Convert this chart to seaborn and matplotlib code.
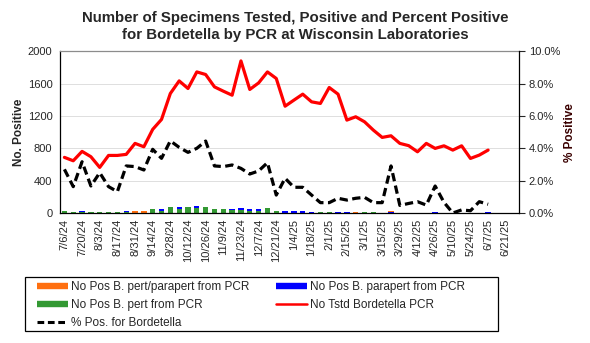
import numpy as np
import matplotlib
matplotlib.use("Agg")
import matplotlib.pyplot as plt
import seaborn as sns
from matplotlib.ticker import PercentFormatter, FixedLocator, NullFormatter
from matplotlib.lines import Line2D
from matplotlib.patches import Rectangle

# ---------------- data ----------------
weeks = ["7/6/24", "7/13/24", "7/20/24", "7/27/24", "8/3/24", "8/10/24", "8/17/24",
         "8/24/24", "8/31/24", "9/7/24", "9/14/24", "9/21/24", "9/28/24", "10/5/24",
         "10/12/24", "10/19/24", "10/26/24", "11/2/24", "11/9/24", "11/16/24",
         "11/23/24", "11/30/24", "12/7/24", "12/14/24", "12/21/24", "12/28/24",
         "1/4/25", "1/11/25", "1/18/25", "1/25/25", "2/1/25", "2/8/25", "2/15/25",
         "2/22/25", "3/1/25", "3/8/25", "3/15/25", "3/22/25", "3/29/25", "4/5/25",
         "4/12/25", "4/19/25", "4/26/25", "5/3/25", "5/10/25", "5/17/25", "5/24/25",
         "5/31/25", "6/7/25", "6/14/25", "6/21/25", "6/28/25"]

tested = [688, 646, 762, 696, 564, 712, 712, 725, 861, 819,
          1034, 1157, 1478, 1634, 1540, 1745, 1713, 1560, 1507, 1457,
          1881, 1528, 1609, 1745, 1664, 1321, 1396, 1470, 1375, 1355,
          1552, 1470, 1149, 1190, 1128, 1025, 935, 955, 861, 833,
          757, 861, 799, 831, 778, 831, 675, 716, 778]

pct_pos = [2.70, 1.63, 3.17, 1.67, 2.49, 1.63, 1.32, 2.91, 2.87, 2.66,
           3.94, 3.38, 4.46, 4.06, 3.75, 4.00, 4.45, 2.91, 2.87, 2.97,
           2.76, 2.41, 2.60, 3.11, 1.11, 2.15, 1.59, 1.59, 1.11, 0.64,
           0.64, 0.91, 0.80, 0.91, 0.97, 0.64, 0.64, 2.91, 0.47, 0.59,
           0.70, 0.49, 1.67, 0.66, 0.00, 0.19, 0.14, 0.70, 0.54]

pos_pert = [22, 12, 12, 12, 14, 12, 10, 10, 0, 0,
            46, 26, 78, 52, 70, 62, 80, 55, 50, 36,
            42, 28, 30, 58, 20, 0, 0, 0, 0, 9,
            10, 0, 0, 0, 11, 7, 6, 0, 5, 5,
            5, 4, 0, 5, 0, 3, 2, 0, 0, 0, 0, 0]

pos_parapert = [0, 0, 16, 0, 0, 0, 0, 15, 0, 0,
                0, 20, 0, 28, 0, 25, 0, 0, 0, 16,
                18, 17, 18, 0, 0, 28, 24, 25, 18, 0,
                0, 15, 12, 0, 0, 0, 0, 12, 0, 0,
                0, 0, 14, 0, 0, 0, 0, 6, 8, 0, 0, 0]

pos_both = [0, 0, 0, 0, 0, 0, 0, 0, 25, 24,
            0, 0, 0, 0, 0, 0, 0, 0, 0, 0,
            0, 0, 0, 0, 0, 0, 0, 0, 0, 0,
            0, 0, 0, 14, 0, 0, 0, 16, 0, 0,
            0, 0, 0, 0, 0, 0, 0, 0, 0, 0, 0, 0]

# ---------------- style ----------------
sns.set_style("white")
plt.rcParams["font.family"] = ["Liberation Sans", "DejaVu Sans"]

C_ORANGE = "#ff6f0f"
C_BLUE = "#0000ff"
C_GREEN = "#339933"
C_RED = "#ff0000"

W, H = 590, 343
fig = plt.figure(figsize=(W / 100, H / 100), dpi=100)
ax = fig.add_axes([60 / W, 1 - 213 / H, 459 / W, (213 - 51.3) / H])

x_all = np.arange(len(weeks))
lvl1 = np.array(pos_pert)
lvl2 = lvl1 + np.array(pos_parapert)
lvl3 = lvl2 + np.array(pos_both)

# stacked bars drawn as overlapping cumulative layers
for vals, col in [(lvl3, C_ORANGE), (lvl2, C_BLUE), (lvl1, C_GREEN)]:
    sns.barplot(x=x_all, y=vals, color=col, width=0.6, native_scale=True,
                errorbar=None, ax=ax, saturation=1, linewidth=0, zorder=2)

x_line = x_all[:len(tested)]
sns.lineplot(x=x_line, y=tested, color=C_RED, linewidth=2.3, ax=ax,
             legend=False, zorder=4, solid_joinstyle="round")

ax.set_xlim(-0.5, len(weeks) - 0.5)
ax.set_ylim(0, 2000)
ax.set_yticks(np.arange(0, 2001, 400))
ax.tick_params(axis="y", length=0, labelsize=8, pad=5.5)
for yv in [400, 800, 1200, 1600]:
    ax.axhline(yv, color="#dedede", lw=0.7, zorder=0)

ax.xaxis.set_major_locator(FixedLocator(x_all[::2]))
ax.set_xticklabels(weeks[::2], rotation=90, ha="center", va="top", fontsize=8)
ax.xaxis.set_minor_locator(FixedLocator(np.arange(-0.5, len(weeks), 1)))
ax.xaxis.set_minor_formatter(NullFormatter())
ax.tick_params(axis="x", which="major", length=0, pad=4)
ax.tick_params(axis="x", which="minor", length=3.5, width=0.8, color="black",
               direction="out")
ax.set_xlabel("")
ax.set_ylabel("No. Positive", fontweight="bold", fontsize=8.5)
ax.yaxis.set_label_coords(-0.076, 0.5)

for s in ["left", "bottom"]:
    ax.spines[s].set_color("black")
    ax.spines[s].set_linewidth(0.9)
ax.spines["top"].set_color("#8c8c8c")
ax.spines["top"].set_linewidth(0.9)
ax.spines["right"].set_visible(False)

# secondary axis: percent positive
ax2 = ax.twinx()
sns.lineplot(x=x_line, y=pct_pos, color="black", linewidth=2.3, ax=ax2,
             legend=False, linestyle=(0, (2.6, 1.4)), zorder=5)
ax2.set_ylim(0, 10)
ax2.set_yticks(np.arange(0, 10.01, 2))
ax2.yaxis.set_major_formatter(PercentFormatter(decimals=1))
ax2.tick_params(axis="y", length=4, width=0.8, labelsize=8, pad=3, direction="out")
ax2.set_ylabel("% Positive", fontweight="bold", fontsize=8.5, color="#3a0000",
               rotation=90)
ax2.yaxis.set_label_coords(1.097, 0.5)
ax2.spines["right"].set_color("black")
ax2.spines["right"].set_linewidth(0.9)
for s in ["top", "left", "bottom"]:
    ax2.spines[s].set_visible(False)
ax2.set_xlim(-0.5, len(weeks) - 0.5)

# title
fig.text(0.5, 1 - 11 / H,
         "Number of Specimens Tested, Positive and Percent Positive\n"
         "for Bordetella by PCR at Wisconsin Laboratories",
         ha="center", va="top", fontweight="bold", fontsize=10.8, linespacing=1.3)

# legend
handles = [
    Line2D([], [], color=C_ORANGE, lw=4.6, solid_capstyle="butt"),
    Line2D([], [], color=C_GREEN, lw=4.6, solid_capstyle="butt"),
    Line2D([], [], color="black", lw=2.2, linestyle=(0, (2.2, 1.2))),
    Line2D([], [], color=C_BLUE, lw=4.6, solid_capstyle="butt"),
    Line2D([], [], color=C_RED, lw=1.8),
]
labels = ["No Pos B. pert/parapert from PCR", "No Pos B. pert from PCR",
          "% Pos. for Bordetella", "No Pos B. parapert from PCR",
          "No Tstd Bordetella PCR"]
fig.legend(handles, labels, ncol=2, loc="upper left",
           bbox_to_anchor=(37 / W, 1 - 281 / H), frameon=False, fontsize=8.5,
           handlelength=2.65, handletextpad=0.25, columnspacing=2.25,
           labelspacing=0.5, borderpad=0, borderaxespad=0)
fig.add_artist(Rectangle((25 / W, 1 - 331 / H), (498 - 25) / W, (331 - 277) / H,
                         transform=fig.transFigure, fill=False,
                         edgecolor="black", lw=0.9))

fig.savefig("out.png", dpi=100)
